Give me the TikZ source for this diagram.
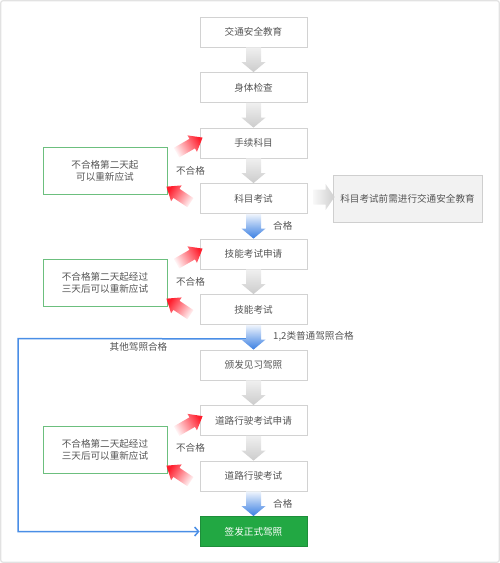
\documentclass[tikz,border=0pt]{standalone}
\usepackage{fontspec}
\newfontfamily\cjk{Noto Sans CJK SC}
\usetikzlibrary{calc,arrows.meta}
\definecolor{txt}{HTML}{555555}
\definecolor{boxline}{HTML}{D2D2D2}
\definecolor{sidefill}{HTML}{F2F2F2}
\definecolor{sideline}{HTML}{CFCFCF}
\definecolor{gline}{HTML}{6CBF7E}
\definecolor{gfill}{HTML}{22A843}
\definecolor{gdark}{HTML}{1E8E3A}
\definecolor{bline}{HTML}{4A8EE6}
\definecolor{barrow}{HTML}{3A7FE2}
\definecolor{rarrow}{HTML}{FF1E2D}
\definecolor{framec}{HTML}{E2E2E2}
% fat arrow: #1 from, #2 to, #3 shaft half width, #4 head half width, #5 head length, #6 style
\newcommand\fatarr[6]{%
  \coordinate (fah) at ($(#2)!#5!(#1)$);
  \path[#6] ($(#1)!#3!90:(#2)$) -- ($(fah)!#3!-90:(#1)$) -- ($(fah)!#4!-90:(#1)$)
    -- (#2) -- ($(fah)!#4!90:(#1)$) -- ($(fah)!#3!90:(#1)$) -- ($(#1)!#3!-90:(#2)$) -- cycle;}
\begin{document}
\begin{tikzpicture}[x=1pt,y=-1pt,
  font=\cjk\fontsize{9.6}{12.5}\selectfont, text=txt,
  mainbox/.style={draw=boxline, fill=white, line width=0.8pt, minimum width=107pt, minimum height=30pt, inner sep=0pt},
  finalbox/.style={mainbox, draw=gdark, fill=gfill, text=white},
  sidebox/.style={draw=sideline, fill=sidefill, line width=0.8pt, minimum width=149pt, minimum height=47pt, inner sep=0pt},
  greenbox/.style={draw=gline, fill=white, line width=0.8pt, minimum width=124pt, minimum height=47pt, inner sep=0pt, align=center},
  lbl/.style={inner sep=0pt},
  gshade/.style={top color=gray!12, bottom color=gray!40},
  hshade/.style={left color=gray!6, right color=gray!38},
  bshade/.style={top color=barrow!8, bottom color=barrow, middle color=barrow!55},
  rup/.style={top color=rarrow, bottom color=rarrow!5, shading angle=-60},
  rdown/.style={top color=rarrow, bottom color=rarrow!5, shading angle=56},
  bluel/.style={draw=bline, line width=1.5pt},
]
\useasboundingbox (0,0) rectangle (500,563);
\draw[framec, line width=1.2pt, rounded corners=2pt] (0.8,0.8) rectangle (499.2,562.2);

% main column
\node[mainbox] (b1) at (253.5,32) {交通安全教育};
\node[mainbox] (b2) at (253.5,87.5) {身体检查};
\node[mainbox] (b3) at (253.5,143) {手续科目};
\node[mainbox] (b4) at (253.5,198.5) {科目考试};
\node[mainbox] (b5) at (253.5,254) {技能考试申请};
\node[mainbox] (b6) at (253.5,309.5) {技能考试};
\node[mainbox] (b7) at (253.5,365) {颁发见习驾照};
\node[mainbox] (b8) at (253.5,420.5) {道路行驶考试申请};
\node[mainbox] (b9) at (253.5,476) {道路行驶考试};
\node[finalbox] (b10) at (253.5,531.5) {签发正式驾照};

% side box
\node[sidebox] (side) at (407.5,198.5) {科目考试前需进行交通安全教育};

% green note boxes
\node[greenbox] (g1) at (105,170.75) {不合格第二天起\\可以重新应试};
\node[greenbox] (g2) at (105,282.75) {不合格第二天起经过\\三天后可以重新应试};
\node[greenbox] (g3) at (105,449.75) {不合格第二天起经过\\三天后可以重新应试};

% labels
\node[lbl] (n1) at (190.5,170.75) {不合格};
\node[lbl] (n2) at (190.5,281.75) {不合格};
\node[lbl] (n3) at (190.5,448.25) {不合格};
\node[lbl, anchor=west] (p1) at (273,226) {合格};
\node[lbl, anchor=west] (p2) at (273,336.5) {1,2类普通驾照合格};
\node[lbl, anchor=west] (p3) at (273,503.5) {合格};
\node[lbl] (p4) at (138.5,346.5) {其他驾照合格};

% blue bypass line
\coordinate (bj) at ($(b6.south)+(0,14)$);
\coordinate (bc) at (18,338.5);
\draw[bluel, -{Straight Barb[length=4pt,width=9pt,line width=1.5pt]}] (bj) -- (bc) |- (b10.west);

% gray arrows
\fatarr{b1.south}{b2.north}{7.5pt}{12pt}{10pt}{gshade}
\fatarr{b2.south}{b3.north}{7.5pt}{12pt}{10pt}{gshade}
\fatarr{b3.south}{b4.north}{7.5pt}{12pt}{10pt}{gshade}
\fatarr{b5.south}{b6.north}{7.5pt}{12pt}{10pt}{gshade}
\fatarr{b7.south}{b8.north}{7.5pt}{12pt}{10pt}{gshade}
\fatarr{b8.south}{b9.north}{7.5pt}{12pt}{10pt}{gshade}
% blue arrows
\fatarr{b4.south}{b5.north}{7.5pt}{12pt}{10pt}{bshade}
\fatarr{b6.south}{b7.north}{7.5pt}{12pt}{10pt}{bshade}
\fatarr{b9.south}{b10.north}{7.5pt}{12pt}{10pt}{bshade}
% right arrow
\coordinate (sa) at ($(b4.east)+(6,-1.5)$);
\coordinate (sb) at ($(side.west)+(2,-1.5)$);
\fatarr{sa}{sb}{7.5pt}{13pt}{9pt}{hshade}

% red arrows
\coordinate (r1t) at ($(b3.north west)+(3,10)$);
\coordinate (r1s) at ($(r1t)+(-26,15)$);
\coordinate (r2t) at ($(g1.south east)+(-1,-8)$);
\coordinate (r2s) at ($(r2t)+(24,16)$);
\fatarr{r1s}{r1t}{5.5pt}{9.5pt}{12pt}{rup}
\fatarr{r2s}{r2t}{5.5pt}{9.5pt}{12pt}{rdown}

\coordinate (r3t) at ($(b5.north west)+(3,10)$);
\coordinate (r3s) at ($(r3t)+(-26,15)$);
\coordinate (r4t) at ($(g2.south east)+(-1,-8)$);
\coordinate (r4s) at ($(r4t)+(24,16)$);
\fatarr{r3s}{r3t}{5.5pt}{9.5pt}{12pt}{rup}
\fatarr{r4s}{r4t}{5.5pt}{9.5pt}{12pt}{rdown}

\coordinate (r5t) at ($(b8.north west)+(3,11)$);
\coordinate (r5s) at ($(r5t)+(-26,15)$);
\coordinate (r6t) at ($(g3.south east)+(-1,-8)$);
\coordinate (r6s) at ($(r6t)+(24,16)$);
\fatarr{r5s}{r5t}{5.5pt}{9.5pt}{12pt}{rup}
\fatarr{r6s}{r6t}{5.5pt}{9.5pt}{12pt}{rdown}
\end{tikzpicture}
\end{document}
